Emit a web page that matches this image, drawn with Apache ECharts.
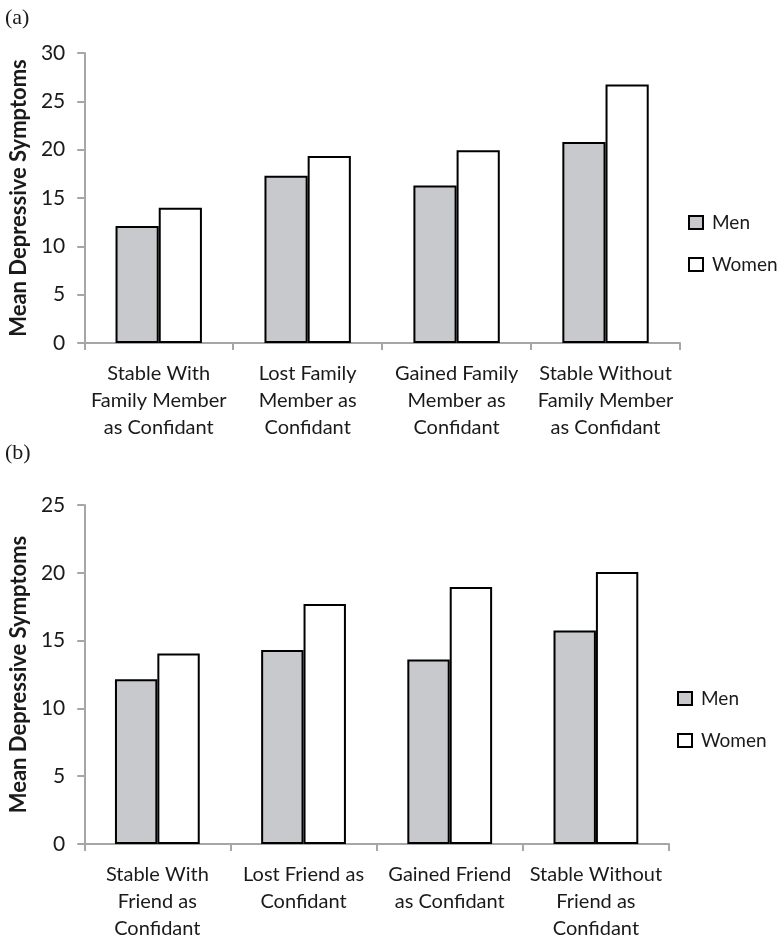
<!DOCTYPE html>
<html>
<head>
<meta charset="utf-8">
<script src="https://cdn.jsdelivr.net/npm/echarts@6/dist/echarts.min.js"></script>
<style>
html,body{margin:0;padding:0;background:#fff;}
#chart{width:784px;height:944px;}
</style>
</head>
<body>
<div id="chart"></div>
<script>
// ---- data ----
const categoriesA = ['Stable With\nFamily Member\nas Confidant', 'Lost Family\nMember as\nConfidant', 'Gained Family\nMember as\nConfidant', 'Stable Without\nFamily Member\nas Confidant'];
const menA = [12.1, 17.3, 16.3, 20.8];
const womenA = [14.0, 19.35, 19.95, 26.75];
const categoriesB = ['Stable With\nFriend as\nConfidant', 'Lost Friend as\nConfidant', 'Gained Friend\nas Confidant', 'Stable Without\nFriend as\nConfidant'];
const menB = [12.15, 14.3, 13.6, 15.75];
const womenB = [14.05, 17.7, 18.95, 20.05];
const yTicksA = {min: 0, max: 30, interval: 5};
const yTicksB = {min: 0, max: 25, interval: 5};
const seriesNames = ['Men', 'Women'];
const panelLabels = ['(a)', '(b)'];
const yAxisTitle = 'Mean Depressive Symptoms';

const FONT = 'Lato, "Open Sans", sans-serif';
const TXT = '#1a1a1a';
const AX = '#a6a6a6';
const MEN_FILL = '#c8c9cc';

function xAxis(gi, cats) {
  return {
    type: 'category', gridIndex: gi, data: cats,
    axisLine: {lineStyle: {color: AX, width: 2}},
    axisTick: {show: true, length: 7, lineStyle: {color: AX, width: 2}},
    axisLabel: {color: TXT, fontFamily: FONT, fontSize: 20, lineHeight: 27, margin: 17, interval: 0}
  };
}
function yAxis(gi, t) {
  return {
    type: 'value', gridIndex: gi, min: t.min, max: t.max, interval: t.interval,
    name: yAxisTitle, nameLocation: 'middle', nameGap: 53,
    nameTextStyle: {color: TXT, fontFamily: FONT, fontSize: 22, fontWeight: 'bold'},
    axisLine: {show: true, lineStyle: {color: AX, width: 2}},
    axisTick: {show: true, length: 7, lineStyle: {color: AX, width: 2}},
    axisLabel: {color: TXT, fontFamily: FONT, fontSize: 21, margin: 19},
    splitLine: {show: false}
  };
}
function bar(name, gi, data, fill) {
  return {
    type: 'bar', name: name, xAxisIndex: gi, yAxisIndex: gi, data: data,
    barCategoryGap: '42%', barGap: '0%',
    itemStyle: {color: fill, borderColor: '#000', borderWidth: 2},
    emphasis: {disabled: true}
  };
}
function legend(left, top) {
  return {
    orient: 'vertical', left: left, top: top, data: seriesNames, padding: 0,
    icon: 'rect', itemWidth: 14, itemHeight: 13, itemGap: 21,
    textStyle: {color: TXT, fontFamily: FONT, fontSize: 19, lineHeight: 21, padding: [0, 0, 0, 4]}
  };
}

const chart = echarts.init(document.getElementById('chart'), null, {renderer: 'canvas'});
chart.setOption({
  animation: false,
  backgroundColor: '#fff',
  grid: [
    {left: 81, top: 53, width: 599, height: 290},
    {left: 81, top: 505, width: 588, height: 339}
  ],
  xAxis: [xAxis(0, categoriesA), xAxis(1, categoriesB)],
  yAxis: [yAxis(0, yTicksA), yAxis(1, yTicksB)],
  legend: [legend(688, 212), legend(677, 688)],
  title: [
    {text: panelLabels[0], left: 0, top: 2, textStyle: {fontFamily: '"Liberation Serif", serif', fontWeight: 'normal', fontSize: 22, color: TXT}},
    {text: panelLabels[1], left: 0, top: 437, textStyle: {fontFamily: '"Liberation Serif", serif', fontWeight: 'normal', fontSize: 22, color: TXT}}
  ],
  series: [
    bar(seriesNames[0], 0, menA, MEN_FILL),
    bar(seriesNames[1], 0, womenA, '#fff'),
    bar(seriesNames[0], 1, menB, MEN_FILL),
    bar(seriesNames[1], 1, womenB, '#fff')
  ]
});
</script>
</body>
</html>
